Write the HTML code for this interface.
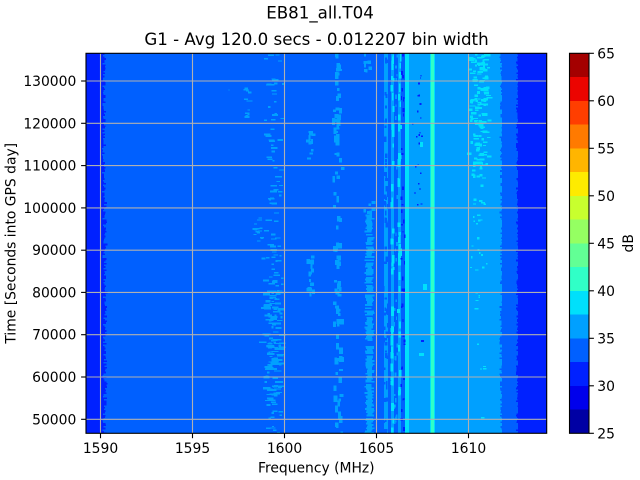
<!DOCTYPE html>
<html><head><meta charset="utf-8">
<style>
html,body{margin:0;padding:0;background:#fff;}
svg{display:block;}
text{font-family:"DejaVu Sans","Liberation Sans",sans-serif;fill:#000;}
</style></head>
<body>
<svg id="s" width="640" height="480" viewBox="0 0 640 480" xmlns="http://www.w3.org/2000/svg">
<defs><clipPath id="cp"><rect x="86" y="53.3" width="460.7" height="380"/></clipPath></defs>
<text x="320" y="18.5" font-size="16.67" text-anchor="middle">EB81_all.T04</text>
<text x="316.5" y="45" font-size="16.67" text-anchor="middle">G1 - Avg 120.0 secs - 0.012207 bin width</text>

<g clip-path="url(#cp)" shape-rendering="crispEdges">
  <rect x="86" y="53.3" width="461" height="380" fill="#0060ff"/>
  <rect x="86" y="53.3" width="15" height="380" fill="#0021ff"/>
  <rect x="384" y="53.3" width="4" height="380" fill="#00a0ff"/>
  <rect x="391" y="53.3" width="3" height="380" fill="#00a0ff"/>
  <rect x="398" y="53.3" width="3" height="380" fill="#00a0ff"/>
  <rect x="405" y="53.3" width="4" height="380" fill="#00e0fb"/>
  <rect x="409" y="53.3" width="93" height="380" fill="#00a0ff"/>
  <rect x="430" y="53.3" width="5" height="380" fill="#00e0fb"/>
  <rect x="431" y="53.3" width="3" height="380" fill="#30ffc7"/>
  <rect x="502" y="53.3" width="16" height="380" fill="#0060ff"/>
  <rect x="518" y="53.3" width="29" height="380" fill="#0021ff"/>
  <g id="spk"></g>
</g>

<!-- grid -->
<g stroke="#b0b0b0" stroke-width="1.1">
  <line x1="100.5" y1="53.3" x2="100.5" y2="433.3"/>
  <line x1="192.5" y1="53.3" x2="192.5" y2="433.3"/>
  <line x1="284.5" y1="53.3" x2="284.5" y2="433.3"/>
  <line x1="376.5" y1="53.3" x2="376.5" y2="433.3"/>
  <line x1="468.5" y1="53.3" x2="468.5" y2="433.3"/>
  <line x1="86" y1="419.3" x2="546.7" y2="419.3"/>
  <line x1="86" y1="377.0" x2="546.7" y2="377.0"/>
  <line x1="86" y1="334.7" x2="546.7" y2="334.7"/>
  <line x1="86" y1="292.4" x2="546.7" y2="292.4"/>
  <line x1="86" y1="250.2" x2="546.7" y2="250.2"/>
  <line x1="86" y1="207.9" x2="546.7" y2="207.9"/>
  <line x1="86" y1="165.6" x2="546.7" y2="165.6"/>
  <line x1="86" y1="123.3" x2="546.7" y2="123.3"/>
  <line x1="86" y1="81.0" x2="546.7" y2="81.0"/>
</g>
<rect x="86" y="53.3" width="460.7" height="380" fill="none" stroke="#000" stroke-width="1.1"/>

<!-- ticks -->
<g stroke="#000" stroke-width="1.1">
  <line x1="100.5" y1="433.3" x2="100.5" y2="438.2"/>
  <line x1="192.5" y1="433.3" x2="192.5" y2="438.2"/>
  <line x1="284.5" y1="433.3" x2="284.5" y2="438.2"/>
  <line x1="376.5" y1="433.3" x2="376.5" y2="438.2"/>
  <line x1="468.5" y1="433.3" x2="468.5" y2="438.2"/>
  <line x1="81.1" y1="419.3" x2="86" y2="419.3"/>
  <line x1="81.1" y1="377.0" x2="86" y2="377.0"/>
  <line x1="81.1" y1="334.7" x2="86" y2="334.7"/>
  <line x1="81.1" y1="292.4" x2="86" y2="292.4"/>
  <line x1="81.1" y1="250.2" x2="86" y2="250.2"/>
  <line x1="81.1" y1="207.9" x2="86" y2="207.9"/>
  <line x1="81.1" y1="165.6" x2="86" y2="165.6"/>
  <line x1="81.1" y1="123.3" x2="86" y2="123.3"/>
  <line x1="81.1" y1="81.0" x2="86" y2="81.0"/>
</g>
<g font-size="13.89" text-anchor="middle">
  <text x="100.5" y="452.8">1590</text>
  <text x="192.5" y="452.8">1595</text>
  <text x="284.5" y="452.8">1600</text>
  <text x="376.5" y="452.8">1605</text>
  <text x="468.5" y="452.8">1610</text>
</g>
<g font-size="13.89" text-anchor="end">
  <text x="76.3" y="424.3">50000</text>
  <text x="76.3" y="382.0">60000</text>
  <text x="76.3" y="339.7">70000</text>
  <text x="76.3" y="297.4">80000</text>
  <text x="76.3" y="255.2">90000</text>
  <text x="76.3" y="212.9">100000</text>
  <text x="76.3" y="170.6">110000</text>
  <text x="76.3" y="128.3">120000</text>
  <text x="76.3" y="86.0">130000</text>
</g>
<text x="316.3" y="472.5" font-size="13.89" text-anchor="middle">Frequency (MHz)</text>
<text transform="translate(15.5,243.3) rotate(-90)" font-size="13.89" text-anchor="middle">Time [Seconds into GPS day]</text>

<!-- colorbar -->
<g shape-rendering="crispEdges">
  <rect x="569.5" y="53.3" width="19.5" height="23.75" fill="#a40000"/>
  <rect x="569.5" y="77.05" width="19.5" height="23.75" fill="#ec0400"/>
  <rect x="569.5" y="100.8" width="19.5" height="23.75" fill="#ff3e00"/>
  <rect x="569.5" y="124.55" width="19.5" height="23.75" fill="#ff7a00"/>
  <rect x="569.5" y="148.3" width="19.5" height="23.75" fill="#ffb500"/>
  <rect x="569.5" y="172.05" width="19.5" height="23.75" fill="#feeb00"/>
  <rect x="569.5" y="195.8" width="19.5" height="23.75" fill="#c8ff2e"/>
  <rect x="569.5" y="219.55" width="19.5" height="23.75" fill="#95ff62"/>
  <rect x="569.5" y="243.3" width="19.5" height="23.75" fill="#62ff95"/>
  <rect x="569.5" y="267.05" width="19.5" height="23.75" fill="#30ffc7"/>
  <rect x="569.5" y="290.8" width="19.5" height="23.75" fill="#00e0fb"/>
  <rect x="569.5" y="314.55" width="19.5" height="23.75" fill="#00a0ff"/>
  <rect x="569.5" y="338.3" width="19.5" height="23.75" fill="#0060ff"/>
  <rect x="569.5" y="362.05" width="19.5" height="23.75" fill="#0021ff"/>
  <rect x="569.5" y="385.8" width="19.5" height="23.75" fill="#0000ec"/>
  <rect x="569.5" y="409.55" width="19.5" height="23.75" fill="#0000a4"/>
</g>
<rect x="569.5" y="53.3" width="19.5" height="380" fill="none" stroke="#000" stroke-width="1.1"/>
<g stroke="#000" stroke-width="1.1">
  <line x1="589" y1="53.3" x2="593.9" y2="53.3"/>
  <line x1="589" y1="100.8" x2="593.9" y2="100.8"/>
  <line x1="589" y1="148.3" x2="593.9" y2="148.3"/>
  <line x1="589" y1="195.8" x2="593.9" y2="195.8"/>
  <line x1="589" y1="243.3" x2="593.9" y2="243.3"/>
  <line x1="589" y1="290.8" x2="593.9" y2="290.8"/>
  <line x1="589" y1="338.3" x2="593.9" y2="338.3"/>
  <line x1="589" y1="385.8" x2="593.9" y2="385.8"/>
  <line x1="589" y1="433.3" x2="593.9" y2="433.3"/>
</g>
<g font-size="13.89">
  <text x="597.3" y="58.3">65</text>
  <text x="597.3" y="105.8">60</text>
  <text x="597.3" y="153.3">55</text>
  <text x="597.3" y="200.8">50</text>
  <text x="597.3" y="248.3">45</text>
  <text x="597.3" y="295.8">40</text>
  <text x="597.3" y="343.3">35</text>
  <text x="597.3" y="390.8">30</text>
  <text x="597.3" y="438.3">25</text>
</g>
<text transform="translate(633,243.3) rotate(-90)" font-size="13.89" text-anchor="middle">dB</text>
</svg>
<script>
(function(){
var ns="http://www.w3.org/2000/svg";
var g=document.getElementById("spk");
var s=12345;
function rnd(){s=(s*1103515245+12345)&0x7fffffff;return s/0x7fffffff;}
function R(x,y,w,h,c){var r=document.createElementNS(ns,"rect");r.setAttribute("x",x.toFixed(1));r.setAttribute("y",y.toFixed(1));r.setAttribute("width",w.toFixed(1));r.setAttribute("height",h.toFixed(1));r.setAttribute("fill",c);g.appendChild(r);}
function col(x0,x1,y0,y1,n,wmin,wmax,hmin,hmax,c){
  for(var i=0;i<n;i++){
    var w=wmin+rnd()*(wmax-wmin),h=hmin+rnd()*(hmax-hmin);
    var t=(rnd()+rnd())/2;
    var x=x0+t*(x1-x0)-w/2;
    var y=y0+rnd()*(y1-y0);
    R(x,y,w,h,c);
  }
}
var M="#0060ff",L="#00a0ff",C="#00e0fb",D="#0021ff";
var y;
// left fringe
for(y=53.3;y<433.3;y+=1.6){var ww=1+rnd()*4+(y>200?rnd()*2:0);R(101,y,ww,1.7,D);}
// right boundaries ragged
for(y=53.3;y<433.3;y+=1.6){var a=499.5+rnd()*4;R(a,y,503-a,1.7,M);var b=516+rnd()*3.5;R(b,y,519-b,1.7,D);}
// strip 366-373 light lower part
for(y=213;y<433.3;y+=1.6){if(rnd()<0.88){var x0=364.5+rnd()*3,x1=371.5+rnd()*3;R(x0,y,x1-x0,1.7,L);}}
col(364,375,53,70,8,2,4,2,4,L);
col(364,375,190,215,8,2,4,2,4,L);
// region 383-405 structure
col(383,389,53,433,60,1.5,3,2,6,M);
col(391,394,53,433,40,1.5,3,3,10,C);
col(398,401,53,433,35,1.5,3,3,9,C);
col(401,405,53,433,40,1,2.5,1.5,4,D);
col(394,398,53,433,30,1,2,2,5,L);
// dark dots in light region near top
col(411,424,58,210,22,1,2,1,2,D);
R(420,142,3,5,C);R(423,284,4,6,C);R(419,353,5,3,C);R(421,340,3,2,D);
// speckle columns on main
col(262,285,53,290,80,2,7,1,2,L);
col(261,286,290,400,130,2,8,1,2.5,L);
col(264,283,400,433,15,2,6,1,2,L);
col(333,343,53,433,95,2.5,4,2,7,L);
col(307,314,130,168,10,2,4,2,5,L);
col(307,314,255,292,22,2,4,2,5,L);
col(244,253,86,118,12,2,5,1,2,L);
col(254,264,214,242,14,2,5,1,2,L);
col(228,232,88,92,1,1,2,1,2,L);
// cyan speckles in light region
col(467,491,53,170,140,2,6,1,3,C);
col(469,489,170,270,28,1.5,4,1,2.5,C);
col(472,486,270,433,10,1.5,4,1,2,C);
})();
</script>
</body></html>
